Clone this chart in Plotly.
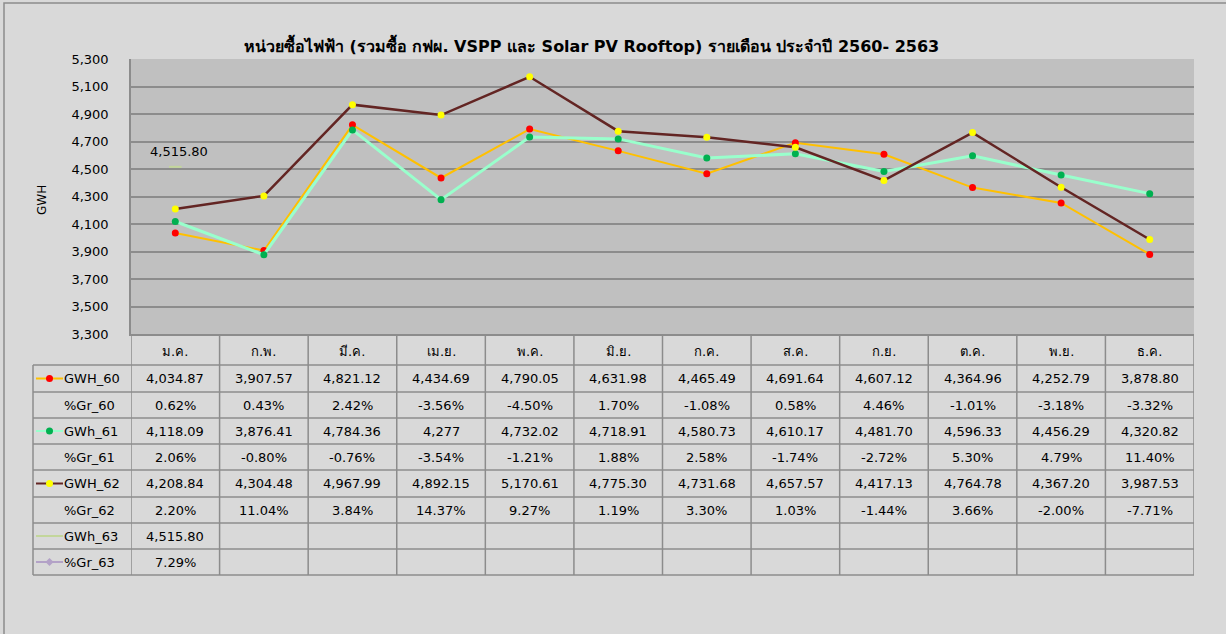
import plotly.graph_objects as go

months = ["ม.ค.", "ก.พ.", "มี.ค.", "เม.ย.", "พ.ค.", "มิ.ย.", "ก.ค.", "ส.ค.", "ก.ย.", "ต.ค.", "พ.ย.", "ธ.ค."]
gwh_60 = [4034.87, 3907.57, 4821.12, 4434.69, 4790.05, 4631.98, 4465.49, 4691.64, 4607.12, 4364.96, 4252.79, 3878.80]
gr_60 = [0.62, 0.43, 2.42, -3.56, -4.50, 1.70, -1.08, 0.58, 4.46, -1.01, -3.18, -3.32]
gwh_61 = [4118.09, 3876.41, 4784.36, 4277, 4732.02, 4718.91, 4580.73, 4610.17, 4481.70, 4596.33, 4456.29, 4320.82]
gr_61 = [2.06, -0.80, -0.76, -3.54, -1.21, 1.88, 2.58, -1.74, -2.72, 5.30, 4.79, 11.40]
gwh_62 = [4208.84, 4304.48, 4967.99, 4892.15, 5170.61, 4775.30, 4731.68, 4657.57, 4417.13, 4764.78, 4367.20, 3987.53]
gr_62 = [2.20, 11.04, 3.84, 14.37, 9.27, 1.19, 3.30, 1.03, -1.44, 3.66, -2.00, -7.71]
gwh_63 = [4515.80]
gr_63 = [7.29]
y_ticks = list(range(3300, 5301, 200))

title = "หน่วยซื้อไฟฟ้า (รวมซื้อ กฟผ. VSPP และ Solar PV Rooftop) รายเดือน ประจำปี 2560- 2563"

FONT = "Tahoma, Verdana, 'DejaVu Sans', 'Noto Sans', sans-serif"
W, H = 1226, 634
L, R, T, B = 131, 1194, 59, 334
PW, PH = R - L, B - T


def px(p):
    return (p - L) / PW


def py(p):
    return (B - p) / PH


def fnum(v):
    if float(v).is_integer():
        return f"{int(v):,}"
    return f"{v:,.2f}"


def fpct(v):
    return f"{v:.2f}%"


fig = go.Figure()

series = [
    ("GWH_60", gwh_60, "#FFC000", 2, "#FF0000"),
    ("GWh_61", gwh_61, "#99FFCC", 3, "#00B050"),
    ("GWH_62", gwh_62, "#632523", 2.5, "#FFFF00"),
]
for name, vals, lc, lw, mc in series:
    fig.add_trace(go.Scatter(
        x=months[:len(vals)], y=vals, name=name, mode="lines+markers",
        line=dict(color=lc, width=lw),
        marker=dict(color=mc, size=7, line=dict(width=0)),
        showlegend=False))

fig.add_trace(go.Scatter(
    x=months[:len(gwh_63)], y=gwh_63, name="GWh_63", mode="markers",
    marker=dict(symbol="line-ew", size=9, line=dict(color="#C3D69B", width=2)),
    showlegend=False))
fig.add_trace(go.Scatter(
    x=months[:len(gr_63)], y=gr_63, name="%Gr_63", mode="markers",
    marker=dict(symbol="diamond", size=7, color="#B3A2C7"),
    showlegend=False))

annotations = []
shapes = []
TXT = dict(family=FONT, size=13, color="#000")

# data label for GWh_63
annotations.append(dict(x=months[0], y=gwh_63[0], xref="x", yref="y", text=fnum(gwh_63[0]),
                        showarrow=False, xshift=4, yshift=15, xanchor="center", yanchor="middle",
                        font=TXT))

# title
annotations.append(dict(x=px(591), y=py(45), xref="paper", yref="paper", text="<b>" + title + "</b>",
                        showarrow=False, font=dict(family=FONT, size=16, color="#000"),
                        xanchor="center", yanchor="middle"))
# y title
annotations.append(dict(x=px(42), y=py(200), xref="paper", yref="paper", text="GWH",
                        textangle=-90, showarrow=False, xanchor="center", yanchor="middle",
                        font=dict(family=FONT, size=12, color="#000")))

GRID = "#8c8c8c"
# outer border
shapes.append(dict(type="rect", xref="paper", yref="paper", x0=px(4), x1=px(1240),
                   y0=py(650), y1=py(3), line=dict(color="#8c8c8c", width=1.5), layer="below"))

# table geometry
row_lines = [365, 392, 418, 444, 470, 497, 523, 549, 575]
table_rows = [
    ("GWH_60", [fnum(v) for v in gwh_60], ("#FFC000", "circle", "#FF0000")),
    ("%Gr_60", [fpct(v) for v in gr_60], None),
    ("GWh_61", [fnum(v) for v in gwh_61], ("#99FFCC", "circle", "#00B050")),
    ("%Gr_61", [fpct(v) for v in gr_61], None),
    ("GWH_62", [fnum(v) for v in gwh_62], ("#632523", "circle", "#FFFF00")),
    ("%Gr_62", [fpct(v) for v in gr_62], None),
    ("GWh_63", [fnum(v) for v in gwh_63], ("#C3D69B", None, None)),
    ("%Gr_63", [fpct(v) for v in gr_63], ("#B3A2C7", "diamond", "#B3A2C7")),
]

# vertical lines of table
for k in range(len(months) + 1):
    shapes.append(dict(type="line", xref="x", yref="paper", x0=k - 0.5, x1=k - 0.5,
                       y0=py(575), y1=py(334), line=dict(color=GRID, width=1.5)))
shapes.append(dict(type="line", xref="paper", yref="paper", x0=px(33), x1=px(33),
                   y0=py(575), y1=py(365), line=dict(color=GRID, width=1.5)))
# horizontal lines
for yl in row_lines:
    shapes.append(dict(type="line", xref="paper", yref="paper", x0=px(33), x1=1,
                       y0=py(yl), y1=py(yl), line=dict(color=GRID, width=1.5)))

# month headers
for i, m in enumerate(months):
    annotations.append(dict(x=m, y=py(351), xref="x", yref="paper", text=m, showarrow=False,
                            xanchor="center", yanchor="middle", font=TXT))

# rows
for r, (label, cells, sym) in enumerate(table_rows):
    yc = (row_lines[r] + row_lines[r + 1]) / 2
    annotations.append(dict(x=px(62), y=py(yc), xref="paper", yref="paper", text=label,
                            xanchor="left", yanchor="middle", showarrow=False, font=TXT))
    for i, c in enumerate(cells):
        annotations.append(dict(x=months[i], y=py(yc), xref="x", yref="paper", text=c,
                                xanchor="center", yanchor="middle", showarrow=False, font=TXT))
    if sym:
        lc, mk, mc = sym
        shapes.append(dict(type="line", xref="paper", yref="paper", x0=px(36), x1=px(63),
                           y0=py(yc), y1=py(yc), line=dict(color=lc, width=2)))
        if mk == "circle":
            shapes.append(dict(type="circle", xref="paper", yref="paper",
                               xsizemode="pixel", ysizemode="pixel",
                               xanchor=px(49.5), yanchor=py(yc),
                               x0=-3.5, x1=3.5, y0=-3.5, y1=3.5,
                               fillcolor=mc, line=dict(width=0)))
        elif mk == "diamond":
            shapes.append(dict(type="path", xref="paper", yref="paper",
                               xsizemode="pixel", ysizemode="pixel",
                               xanchor=px(49.5), yanchor=py(yc),
                               path="M -4 0 L 0 4 L 4 0 L 0 -4 Z",
                               fillcolor=mc, line=dict(width=0)))

fig.update_layout(
    width=W, height=H,
    margin=dict(l=L, r=W - R, t=T, b=H - B, pad=0),
    paper_bgcolor="#D9D9D9", plot_bgcolor="#C0C0C0",
    font=dict(family=FONT, size=13, color="#000"),
    xaxis=dict(type="category", range=[-0.5, len(months) - 0.5], showticklabels=False,
               showgrid=False, zeroline=False, ticks="", showline=True, linecolor=GRID, linewidth=1.5),
    yaxis=dict(range=[3300, 5300], tickvals=y_ticks, tickformat=",", showgrid=True,
               gridcolor=GRID, gridwidth=1.5, zeroline=False, showline=True, linecolor=GRID,
               linewidth=1.5, ticks="", ticklabelstandoff=18,
               tickfont=dict(family=FONT, size=13, color="#000")),
    annotations=annotations, shapes=shapes,
)

fig.write_html("out.html", config={"displayModeBar": False},
               post_script="document.body.style.margin='0';document.body.style.overflow='hidden';")
